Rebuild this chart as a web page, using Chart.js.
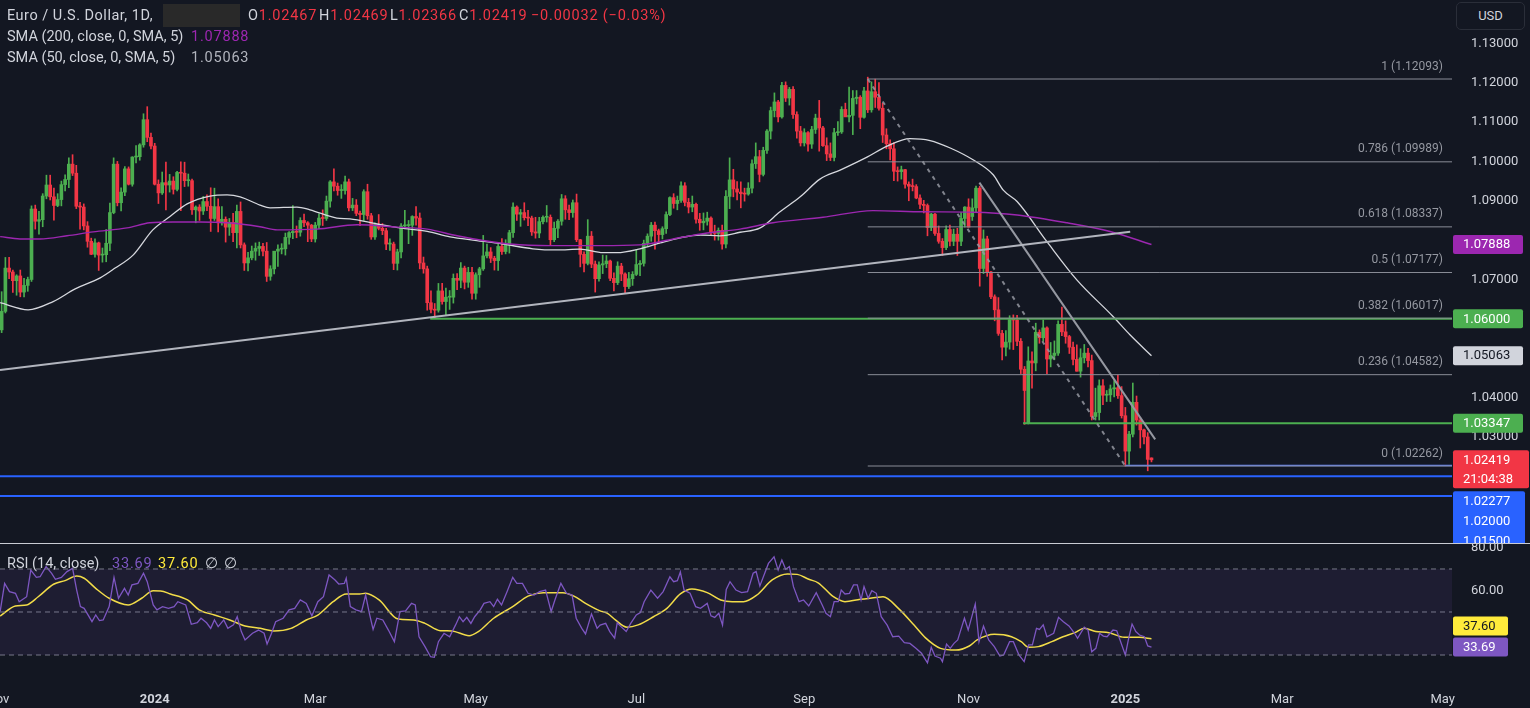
<!DOCTYPE html>
<html>
<head>
<meta charset="utf-8">
<script src="https://cdn.jsdelivr.net/npm/chart.js@4.4.1/dist/chart.umd.min.js"></script>
<style>
  body { margin: 0; background: #131722; }
  #wrap { position: relative; width: 1530px; height: 708px; overflow: hidden; background: #131722; font-family: Roboto, sans-serif; }
  canvas { position: absolute; left: 0; }
  .lg { position: absolute; font-size: 14.5px; line-height: 20px; color: #d1d4dc; white-space: pre; }
  .num { letter-spacing: 0.8px; }
  .red { color: #f23645; }
</style>
</head>
<body>
<div id="wrap">
  <canvas id="price" width="1530" height="543" style="top:0"></canvas>
  <div style="position:absolute;left:0;top:543px;width:1530px;height:1px;background:#c9ccd4"></div>
  <canvas id="rsi" width="1530" height="164" style="top:544px"></canvas>

  <div class="lg" style="left:7px;top:6px;letter-spacing:0.5px">Euro / U.S. Dollar, 1D,</div>
  <div style="position:absolute;left:163px;top:4px;width:77px;height:23px;background:#292929"></div>
  <div class="lg num" style="left:248px;top:6px">O<span class="red">1.02467</span></div>
  <div class="lg num" style="left:319px;top:6px">H<span class="red">1.02469</span></div>
  <div class="lg num" style="left:390px;top:6px">L<span class="red">1.02366</span></div>
  <div class="lg num" style="left:459px;top:6px">C<span class="red">1.02419</span></div>
  <div class="lg num red" style="left:531px;top:6px">−0.00032 (−0.03%)</div>
  <div class="lg" style="left:7px;top:27px">SMA (200, close, 0, SMA, 5)</div>
  <div class="lg num" style="left:191px;top:27px;color:#9c27b0">1.07888</div>
  <div class="lg" style="left:7px;top:48px">SMA (50, close, 0, SMA, 5)</div>
  <div class="lg num" style="left:191px;top:48px;color:#b2b5be">1.05063</div>

  <div class="lg" style="left:7px;top:554px">RSI (14, close)</div>
  <div class="lg num" style="left:112px;top:554px;color:#7e57c2">33.69</div>
  <div class="lg num" style="left:158px;top:554px;color:#ffeb3b">37.60</div>
  <div class="lg" style="left:205px;top:554px">∅</div>
  <div class="lg" style="left:224px;top:554px">∅</div>

  <div style="position:absolute;left:1456px;top:2px;width:69px;height:28px;border:1px solid #2a2e39;border-radius:5px;box-sizing:border-box;background:#131722;color:#d1d4dc;font-size:13px;line-height:26px;text-align:center">USD</div>
</div>

<script>
// bar index 0 = 1 Nov 2023, weekdays only (no 25 Dec / 1 Jan bars), last bar 13 Jan 2025
const opens = [
  1.0575,1.0572,1.0619,1.0729,1.0719,1.0697,1.0709,1.0668,1.0685,1.0700,
  1.0879,1.0848,1.0852,1.0912,1.0940,1.0910,1.0888,1.0903,1.0941,1.0954,
  1.0993,1.0970,1.0886,1.0884,1.0836,1.0797,1.0764,1.0793,1.0762,1.0763,
  1.0792,1.0870,1.0993,1.0895,1.0922,1.0981,1.0942,1.1011,1.1012,1.1042,
  1.1106,1.1061,1.1039,1.0942,1.0920,1.0946,1.0940,1.0950,1.0929,1.0972,
  1.0970,1.0951,1.0951,1.0877,1.0884,1.0874,1.0898,1.0886,1.0855,1.0885,
  1.0844,1.0853,1.0833,1.0845,1.0819,1.0873,1.0788,1.0742,1.0755,1.0772,
  1.0779,1.0784,1.0772,1.0708,1.0727,1.0772,1.0777,1.0778,1.0807,1.0819,
  1.0822,1.0820,1.0850,1.0844,1.0838,1.0803,1.0838,1.0856,1.0855,1.0899,
  1.0948,1.0937,1.0926,1.0926,1.0948,1.0882,1.0889,1.0868,1.0865,1.0923,
  1.0862,1.0808,1.0840,1.0830,1.0824,1.0790,1.0790,1.0741,1.0770,1.0836,
  1.0837,1.0838,1.0860,1.0856,1.0742,1.0727,1.0641,1.0624,1.0622,1.0671,
  1.0644,1.0655,1.0655,1.0703,1.0698,1.0729,1.0693,1.0718,1.0665,1.0712,
  1.0727,1.0760,1.0770,1.0754,1.0748,1.0784,1.0771,1.0788,1.0819,1.0884,
  1.0866,1.0870,1.0857,1.0856,1.0821,1.0818,1.0847,1.0858,1.0858,1.0801,
  1.0830,1.0848,1.0905,1.0877,1.0870,1.0895,1.0801,1.0764,1.0741,1.0810,
  1.0739,1.0702,1.0737,1.0740,1.0747,1.0703,1.0692,1.0734,1.0714,1.0682,
  1.0702,1.0713,1.0738,1.0741,1.0792,1.0810,1.0838,1.0824,1.0814,1.0829,
  1.0865,1.0908,1.0893,1.0901,1.0938,1.0896,1.0884,1.0891,1.0853,1.0844,
  1.0848,1.0856,1.0821,1.0817,1.0825,1.0790,1.0911,1.0953,1.0930,1.0922,
  1.0918,1.0917,1.0932,1.0994,1.1012,1.0967,1.1028,1.1077,1.1129,1.1151,
  1.1113,1.1193,1.1161,1.1183,1.1119,1.1077,1.1047,1.1073,1.1044,1.1081,
  1.1110,1.1085,1.1040,1.1019,1.1010,1.1073,1.1075,1.1132,1.1113,1.1117,
  1.1160,1.1163,1.1112,1.1179,1.1131,1.1177,1.1163,1.1135,1.1067,1.1045,
  1.1032,1.0975,1.0974,1.0979,1.0942,1.0937,1.0936,1.0907,1.0891,1.0888,
  1.0832,1.0866,1.0817,1.0797,1.0781,1.0827,1.0797,1.0815,1.0797,1.0855,
  1.0884,1.0860,1.0882,1.0932,1.0728,1.0803,1.0719,1.0656,1.0623,1.0563,
  1.0528,1.0541,1.0598,1.0597,1.0543,1.0472,1.0335,1.0493,1.0488,1.0566,
  1.0552,1.0577,1.0498,1.0507,1.0513,1.0586,1.0567,1.0555,1.0528,1.0497,
  1.0467,1.0501,1.0513,1.0494,1.0352,1.0362,1.0430,1.0406,1.0407,1.0422,
  1.0425,1.0405,1.0354,1.0264,1.0307,1.0388,1.0343,1.0318,1.0300,1.02467
];
const highs = [
  1.0590,1.0669,1.0756,1.0756,1.0724,1.0712,1.0724,1.0703,1.0706,1.0887,
  1.0889,1.0873,1.0918,1.0965,1.0965,1.0932,1.0918,1.0950,1.0966,1.1009,
  1.1017,1.0990,1.0896,1.0892,1.0847,1.0805,1.0803,1.0795,1.0780,1.0827,
  1.0894,1.1009,1.1000,1.0933,1.0987,1.0986,1.1012,1.1040,1.1045,1.1121,
  1.1139,1.1072,1.1046,1.0953,1.0973,1.0998,1.0967,1.0961,1.0975,1.0999,
  1.0998,1.0968,1.0955,1.0887,1.0890,1.0911,1.0915,1.0933,1.0932,1.0905,
  1.0885,1.0859,1.0855,1.0868,1.0889,1.0897,1.0793,1.0769,1.0785,1.0793,
  1.0795,1.0792,1.0794,1.0735,1.0770,1.0788,1.0791,1.0818,1.0822,1.0888,
  1.0836,1.0857,1.0866,1.0847,1.0840,1.0845,1.0867,1.0877,1.0912,1.0951,
  1.0981,1.0945,1.0941,1.0963,1.0955,1.0906,1.0903,1.0874,1.0928,1.0942,
  1.0868,1.0844,1.0865,1.0842,1.0830,1.0803,1.0795,1.0777,1.0842,1.0876,
  1.0850,1.0862,1.0885,1.0869,1.0757,1.0734,1.0671,1.0639,1.0690,1.0690,
  1.0678,1.0672,1.0714,1.0715,1.0743,1.0734,1.0731,1.0731,1.0717,1.0731,
  1.0812,1.0790,1.0781,1.0759,1.0790,1.0804,1.0801,1.0825,1.0895,1.0887,
  1.0878,1.0895,1.0876,1.0861,1.0858,1.0858,1.0862,1.0888,1.0864,1.0846,
  1.0852,1.0916,1.0913,1.0889,1.0902,1.0917,1.0802,1.0770,1.0852,1.0822,
  1.0747,1.0745,1.0762,1.0761,1.0749,1.0717,1.0745,1.0741,1.0717,1.0718,
  1.0720,1.0776,1.0748,1.0800,1.0816,1.0845,1.0846,1.0828,1.0834,1.0872,
  1.0910,1.0918,1.0912,1.0948,1.0946,1.0906,1.0912,1.0894,1.0868,1.0869,
  1.0871,1.0859,1.0838,1.0831,1.0838,1.0926,1.1009,1.0980,1.0949,1.0948,
  1.0932,1.0946,1.1004,1.1047,1.1028,1.1036,1.1081,1.1138,1.1174,1.1155,
  1.1201,1.1202,1.1188,1.1190,1.1126,1.1089,1.1083,1.1076,1.1089,1.1120,
  1.1155,1.1089,1.1060,1.1047,1.1084,1.1101,1.1139,1.1148,1.1189,1.1180,
  1.1180,1.1167,1.1188,1.1214,1.1202,1.1209,1.1200,1.1148,1.1083,1.1055,
  1.1048,1.0986,1.0988,1.0980,1.0948,1.0955,1.0941,1.0915,1.0901,1.0892,
  1.0868,1.0868,1.0836,1.0804,1.0836,1.0838,1.0828,1.0830,1.0870,1.0885,
  1.0905,1.0905,1.0937,1.0937,1.0826,1.0810,1.0721,1.0661,1.0654,1.0571,
  1.0570,1.0608,1.0610,1.0609,1.0550,1.0479,1.0529,1.0516,1.0589,1.0572,
  1.0597,1.0580,1.0540,1.0544,1.0595,1.0630,1.0595,1.0558,1.0541,1.0534,
  1.0524,1.0535,1.0525,1.0508,1.0424,1.0445,1.0446,1.0418,1.0432,1.0443,
  1.0457,1.0428,1.0375,1.0314,1.0437,1.0404,1.0350,1.0320,1.0311,1.02469
];
const lows = [
  1.0517,1.0565,1.0615,1.0702,1.0667,1.0660,1.0656,1.0656,1.0670,1.0695,
  1.0828,1.0815,1.0834,1.0905,1.0902,1.0851,1.0885,1.0887,1.0925,1.0933,
  1.0964,1.0880,1.0828,1.0826,1.0782,1.0763,1.0757,1.0723,1.0744,1.0745,
  1.0773,1.0867,1.0887,1.0874,1.0913,1.0940,1.0937,1.0996,1.1003,1.1036,
  1.1050,1.1032,1.0940,1.0893,1.0916,1.0877,1.0922,1.0917,1.0925,1.0875,
  1.0936,1.0937,1.0865,1.0844,1.0850,1.0865,1.0875,1.0822,1.0850,1.0821,
  1.0838,1.0795,1.0812,1.0796,1.0780,1.0780,1.0723,1.0722,1.0750,1.0749,
  1.0761,1.0760,1.0695,1.0698,1.0714,1.0733,1.0765,1.0762,1.0790,1.0804,
  1.0806,1.0810,1.0834,1.0796,1.0796,1.0795,1.0829,1.0837,1.0850,1.0884,
  1.0925,1.0914,1.0906,1.0917,1.0874,1.0875,1.0862,1.0837,1.0850,1.0853,
  1.0802,1.0802,1.0826,1.0814,1.0776,1.0774,1.0725,1.0724,1.0755,1.0830,
  1.0791,1.0812,1.0838,1.0727,1.0716,1.0622,1.0615,1.0601,1.0617,1.0637,
  1.0610,1.0624,1.0640,1.0674,1.0679,1.0676,1.0680,1.0650,1.0650,1.0680,
  1.0723,1.0755,1.0743,1.0724,1.0723,1.0764,1.0765,1.0767,1.0807,1.0850,
  1.0835,1.0851,1.0837,1.0812,1.0805,1.0806,1.0841,1.0846,1.0788,1.0796,
  1.0806,1.0838,1.0853,1.0852,1.0858,1.0796,1.0732,1.0719,1.0737,1.0730,
  1.0668,1.0696,1.0715,1.0730,1.0697,1.0671,1.0687,1.0697,1.0666,1.0677,
  1.0685,1.0710,1.0710,1.0734,1.0784,1.0797,1.0777,1.0791,1.0803,1.0817,
  1.0862,1.0881,1.0877,1.0896,1.0887,1.0869,1.0872,1.0843,1.0825,1.0826,
  1.0838,1.0812,1.0800,1.0800,1.0777,1.0780,1.0880,1.0910,1.0902,1.0882,
  1.0899,1.0914,1.0920,1.0982,1.0948,1.0963,1.1020,1.1057,1.1113,1.1100,
  1.1110,1.1152,1.1143,1.1109,1.1059,1.1039,1.1039,1.1026,1.1033,1.1071,
  1.1026,1.1038,1.1002,1.1002,1.1001,1.1066,1.1071,1.1115,1.1100,1.1068,
  1.1146,1.1083,1.1110,1.1124,1.1125,1.1137,1.1130,1.1048,1.1032,1.1004,
  1.0951,1.0950,1.0955,1.0932,1.0900,1.0925,1.0905,1.0880,1.0869,1.0811,
  1.0824,1.0812,1.0792,1.0761,1.0776,1.0785,1.0786,1.0761,1.0786,1.0833,
  1.0833,1.0850,1.0870,1.0683,1.0715,1.0708,1.0651,1.0595,1.0558,1.0496,
  1.0506,1.0523,1.0522,1.0532,1.0461,1.0332,1.0333,1.0424,1.0468,1.0538,
  1.0543,1.0461,1.0478,1.0496,1.0507,1.0557,1.0538,1.0512,1.0483,1.0467,
  1.0452,1.0488,1.0478,1.0343,1.0343,1.0343,1.0382,1.0390,1.0390,1.0402,
  1.0398,1.0348,1.0226,1.0230,1.0300,1.0330,1.0272,1.0282,1.0214,1.02366
];
const closes = [
  1.0572,1.0619,1.0729,1.0719,1.0697,1.0709,1.0668,1.0685,1.0700,1.0879,
  1.0848,1.0852,1.0912,1.0940,1.0910,1.0888,1.0903,1.0941,1.0954,1.0993,
  1.0970,1.0886,1.0884,1.0836,1.0797,1.0764,1.0793,1.0762,1.0763,1.0792,
  1.0870,1.0993,1.0895,1.0922,1.0981,1.0942,1.1011,1.1012,1.1042,1.1106,
  1.1061,1.1039,1.0942,1.0920,1.0946,1.0940,1.0950,1.0929,1.0972,1.0970,
  1.0951,1.0951,1.0877,1.0884,1.0874,1.0898,1.0886,1.0855,1.0885,1.0844,
  1.0853,1.0833,1.0845,1.0819,1.0873,1.0788,1.0742,1.0755,1.0772,1.0779,
  1.0784,1.0772,1.0708,1.0727,1.0772,1.0777,1.0778,1.0807,1.0819,1.0822,
  1.0820,1.0850,1.0844,1.0838,1.0803,1.0838,1.0856,1.0855,1.0899,1.0948,
  1.0937,1.0926,1.0926,1.0948,1.0882,1.0889,1.0868,1.0865,1.0923,1.0862,
  1.0808,1.0840,1.0830,1.0824,1.0790,1.0790,1.0741,1.0770,1.0836,1.0837,
  1.0838,1.0860,1.0856,1.0742,1.0727,1.0641,1.0624,1.0622,1.0671,1.0644,
  1.0655,1.0655,1.0703,1.0698,1.0729,1.0693,1.0718,1.0665,1.0712,1.0727,
  1.0760,1.0770,1.0754,1.0748,1.0784,1.0771,1.0788,1.0819,1.0884,1.0866,
  1.0870,1.0857,1.0856,1.0821,1.0818,1.0847,1.0858,1.0858,1.0801,1.0830,
  1.0848,1.0905,1.0877,1.0870,1.0895,1.0801,1.0764,1.0741,1.0810,1.0739,
  1.0702,1.0737,1.0740,1.0747,1.0703,1.0692,1.0734,1.0714,1.0682,1.0702,
  1.0713,1.0738,1.0741,1.0792,1.0810,1.0838,1.0824,1.0814,1.0829,1.0865,
  1.0908,1.0893,1.0901,1.0938,1.0896,1.0884,1.0891,1.0853,1.0844,1.0848,
  1.0856,1.0821,1.0817,1.0825,1.0790,1.0911,1.0953,1.0930,1.0922,1.0918,
  1.0917,1.0932,1.0994,1.1012,1.0967,1.1028,1.1077,1.1129,1.1151,1.1113,
  1.1193,1.1161,1.1183,1.1119,1.1077,1.1047,1.1073,1.1044,1.1081,1.1110,
  1.1085,1.1040,1.1019,1.1010,1.1073,1.1075,1.1132,1.1113,1.1117,1.1160,
  1.1163,1.1112,1.1179,1.1131,1.1177,1.1163,1.1135,1.1067,1.1045,1.1032,
  1.0975,1.0974,1.0979,1.0942,1.0937,1.0936,1.0907,1.0891,1.0888,1.0832,
  1.0866,1.0817,1.0797,1.0781,1.0827,1.0797,1.0815,1.0797,1.0855,1.0884,
  1.0833,1.0882,1.0932,1.0728,1.0803,1.0719,1.0656,1.0623,1.0563,1.0528,
  1.0541,1.0598,1.0597,1.0543,1.0472,1.0418,1.0493,1.0488,1.0566,1.0552,
  1.0577,1.0498,1.0507,1.0513,1.0586,1.0567,1.0555,1.0528,1.0497,1.0467,
  1.0501,1.0513,1.0494,1.0352,1.0362,1.0430,1.0406,1.0407,1.0422,1.0425,
  1.0405,1.0354,1.0264,1.0307,1.0388,1.0343,1.0318,1.0300,1.0243,1.02419
];

// moving averages (bar position, value)
const sma50At = [0.6,8.1,14.8,20.7,27.4,31.4,36.2,41.5,46.1,50.7,56.8,61.4,64.9,70.2,72.9,80.1,83.6,90.8,94.3,101.6,
  107.7,115,121.1,128.3,135.3,143.3,149.8,155.9,162.1,165.8,172,177.4,182.7,188.1,193.4,198.8,204.2,209.5,214.9,220.2,
  225.6,232.8,238.2,244.3,249.7,255.1,261.2,266.6,269.3,273,281,289,298.7,303.3,309];
const sma50 = [1.0641,1.0623,1.0644,1.0676,1.0704,1.0729,1.0762,1.0826,1.0860,1.0892,1.0912,1.0915,1.0910,1.0889,1.0882,1.0884,1.0877,1.0856,1.0854,1.0841,
  1.0831,1.0822,1.0808,1.0799,1.0790,1.0778,1.0775,1.0777,1.0768,1.0768,1.0778,1.0793,1.0806,1.0813,1.0811,1.0820,1.0831,1.0872,1.0910,1.0955,
  1.0978,1.1011,1.1039,1.1058,1.1053,1.1034,1.1004,1.0966,1.0927,1.0898,1.0796,1.0699,1.0606,1.0559,1.05063];
const sma200At = [0.6,5.9,11.3,18.5,25.5,34.6,40.7,46.9,54.1,61.4,70.2,74.8,85.5,96.2,106.9,115,123,130,137.2,147.9,
  161.3,172,180.9,190,198.8,207.6,221,234.4,247.8,261.2,273,286.4,297.9,309];
const sma200 = [1.0809,1.0803,1.0803,1.0811,1.0821,1.0831,1.0844,1.0846,1.0846,1.0844,1.0834,1.0826,1.0828,1.0839,1.0833,1.0828,1.0811,1.0799,1.0790,1.0786,
  1.0786,1.0788,1.0803,1.0818,1.0828,1.0844,1.0858,1.0875,1.0872,1.0871,1.0864,1.0844,1.0822,1.07888];

// RSI(14) and its MA
const rsiAt = [0.6,1.8,3.1,4.7,5.7,7.7,8.8,10.3,11.3,12.9,14.4,15.4,17,18.5,20,21.1,22.1,23.1,25.2,26.2,
  27.2,28.2,29.8,31.1,32.3,33.9,34.9,35.9,37.5,39,40,41.6,42.6,44.1,45.7,47.2,48.2,50.3,51.8,53.4,
  54.4,55.9,57,58,59,60.5,61.6,63.1,64.1,65.2,66.2,68.2,69.8,71.3,72.1,73.3,74.4,76.4,78,79.5,
  81,82.6,84.1,85.7,87.2,88.7,90.3,91.3,92.8,93.3,94.4,95.9,97.4,98.5,99.5,100.5,101.5,103.1,104.6,106.2,
  107.7,109.2,110.8,111.8,112.8,114.4,115.9,116.9,118,119.5,121,122.6,123.6,124.6,125.6,126.7,127.7,129.2,130.2,131.8,
  132.8,133.8,134.9,136.4,137.9,139,140.5,142,143.6,145.1,146.7,148.2,149.2,150.8,152.3,153.8,154.9,156.4,157.4,159,
  160.5,161.3,162.8,163.9,165.2,165.9,166.9,168.3,169.5,171,172.1,173.1,174.9,176.7,178.2,180,181,182,182.8,183.8,
  185.4,186.9,188.2,190,191,192,193.1,194.1,195.1,196.1,197.7,199.2,200.8,202.3,203.1,204.1,205.4,206.4,207.9,209,
  210,211,212,213.1,214.6,215.8,217.2,219.2,220.8,221.8,223,224,225.1,225.9,226.9,228.1,229.2,230.2,231.2,232,
  233.1,234.1,235.3,236.6,238.2,239.7,241.3,242.8,244.3,245.9,247.4,249,250,251,252.5,253,254.1,255.1,256.1,257.1,
  258.2,258.9,259.9,261.8,262.8,264,265.4,266.9,268.4,269.4,271,272,273.5,274.9,276.1,277.1,278.2,279,280,281,
  282.8,284.1,285.4,286.9,288.4,289.2,291,292,293,294.1,295.1,296.1,297.1,298.7,299.7,302,302.8,303.8,304.8,305.8,
  307.1,308,309];
const rsi = [50.2,63.3,59.5,58.7,54.8,57.1,69.5,66.1,66.4,71.1,68,65.2,66.1,68.8,70.3,60.2,52.5,51.7,45.5,48.6,
  46,46.3,52.5,66.1,56.4,61,57.9,62.6,63.3,68,64.1,53.3,51,52.5,51.7,52.5,54.8,53.3,44.3,45,
  47.1,45,42.4,46.3,43.2,46.3,42.4,44,47.8,40.9,37,40.1,41.6,40.1,35.1,40.1,45.5,47.1,51,51.7,
  55.6,54,48.2,54.8,57.1,67.2,64.9,63,63.3,65.7,52.5,51,50.2,57.9,49.4,41.9,47.1,46.3,41.6,36.2,
  50.2,50.5,54,53.3,38.5,33.9,29.2,28.9,36.2,40.1,38.5,44,47.8,45.5,47.5,44.7,47.8,51,54,54.8,
  52.5,55.9,53.3,59.5,66.1,63.3,63.3,58.7,57.9,59.5,60.2,50.2,55.6,63.3,58.7,57.9,47.1,42.4,39.8,49.1,
  42.4,43.9,44.7,40.9,37.8,45,43.2,40.9,44.7,48.6,49.7,54.8,60.2,56.4,59.5,66.4,64.1,64.6,68.6,60.2,
  58.7,52.5,51.7,54,48.2,47.5,49.4,43.9,60.5,64.1,60.2,59,59.5,68,68.8,62.1,68,72.6,75.7,69.5,
  74.2,69.9,71.1,61.8,54.8,55.6,52.8,59,53.3,49.4,47.8,54.8,54.8,60.2,58.4,58.7,62.6,62.6,55.6,61.8,
  56.4,59.9,58.7,47.8,43.9,38.5,38.8,35.7,35.4,33.1,30.8,26.4,33.6,29.5,28.5,26.9,35.1,33.1,35.4,37,
  43.2,47.1,41.6,53.7,36.2,43.5,37,33.9,29.5,30,36.2,36.2,30,26.9,34.7,34.7,42.4,41.9,44,38.5,
  40.1,47.5,45.5,43.5,40.1,37.8,42.9,41.6,31.5,33.1,40.1,38.8,38.5,41.6,41.3,30,37,44.4,40.9,39.3,
  38.5,34.2,33.69];
const rsiMaAt = [0.6,4.7,7.7,10.8,14.9,18,21.1,23.1,26.2,29.8,34.9,38.5,41.6,43.6,46.2,50.8,53.9,58,62.1,66.2,
  70.3,73.9,78.5,82.6,85.7,89.8,93.3,96.9,98.5,102.1,107.2,111.3,114.4,118.5,121.5,126.2,128.7,132.8,137.9,142,
  146.1,151.3,154.3,157.4,161.3,163.3,165.4,168.5,171.5,175.6,179.2,182.8,185.9,190,193.6,196.7,199.7,203.3,207.4,211.5,
  214.1,217.2,219.7,223.8,226.9,231,235.1,237.1,241.2,245.4,248.4,252.5,256.6,260.2,262.3,266.9,271.5,274.1,276.1,278.7,
  282.3,285.3,288.4,291,294.1,297.6,301.7,305.8,309];
const rsiMa = [48.1,52.8,53.3,57.1,62.9,64.6,66.7,65.7,61,56.4,53.3,56.4,59.9,59.8,58.4,55.6,51,48.6,46.3,43.5,
  42.4,41.2,42.4,46.3,48.6,54.8,58.4,58.4,58.7,55.6,46.7,46.3,44.7,41.3,41.2,39,40.9,47.1,52.5,57.4,
  59,59,57.4,54,50.5,49.4,46.3,42.9,44,47.8,51.7,58.4,60.7,59,55.6,54.8,54.8,57.9,64.9,67.7,
  67.5,65.2,63.6,57.1,54.8,55.9,56.7,57.1,51.7,43.9,38.1,33.1,32.3,34.2,37,39.6,38.5,36.2,33.6,33.9,
  36.2,38.5,40.4,42.4,40.9,40.4,38.2,38.2,37.6];

// drawings: fib retracement, trend lines, levels  ([bar, price])
const fibRatios = ['1', '0.786', '0.618', '0.5', '0.382', '0.236', '0'];
const fibLevels = [1.12093, 1.09989, 1.08337, 1.07177, 1.06017, 1.04582, 1.02262];
const fibStart = 233;
const riseLine = [[0.56, 1.0470], [303.3, 1.0821]];
const fallLine = [[262.9, 1.0946], [310.0, 1.0294]];
const fibDiag = [[233, 1.12093], [302, 1.02262]];
const greenLevels = [[115.8, 1.06], [274.6, 1.03347]];
const blueLevels = [[0.56, 1.02], [0.56, 1.015]];
const blueRay = [302, 1.02277];

// axes (only the labels left uncovered by the value tags)
const tickAt = [0, 42, 85, 128, 171, 216, 260, 302, 344, 387];
const tickLabels = ['Nov', '2024', 'Mar', 'May', 'Jul', 'Sep', 'Nov', '2025', 'Mar', 'May'];
const priceTicks = [1.03, 1.04, 1.07, 1.09, 1.10, 1.11, 1.12, 1.13];
const rsiTicks = [60, 80];

const X_MIN = 0.56, X_MAX = 389.5;
const P_MIN = 1.00306, P_MAX = 1.14100;
const R_MIN = 20.70, R_MAX = 81.16;
const UP = '#4caf50', DOWN = '#f23645';

Chart.defaults.font.family = 'Roboto, sans-serif';

const candleColors = closes.map((c, i) => c >= opens[i] ? UP : DOWN);
const pts = (xs, ys) => xs.map((x, k) => ({ x: x, y: ys[k] }));
const seg = (pairs, color, width, dash) => ({
  type: 'line', data: pairs.map(p => ({ x: p[0], y: p[1] })), borderColor: color, borderWidth: width,
  borderDash: dash || [], pointRadius: 0, order: 1
});
// keep the plot area edge to edge: no room reserved for overhanging labels
const noPad = s => { s.paddingTop = 0; s.paddingBottom = 0; s.paddingLeft = 0; s.paddingRight = 0; };

function tag(ctx, left, top, w, h, bg, fg, lines, lineH) {
  ctx.fillStyle = bg;
  ctx.beginPath();
  ctx.roundRect(left, top, w, h, 2);
  ctx.fill();
  ctx.fillStyle = fg;
  ctx.font = '13px Roboto, sans-serif';
  ctx.textAlign = 'left';
  ctx.textBaseline = 'middle';
  lines.forEach((t, k) => ctx.fillText(t, left + 10, top + lineH / 2 + k * lineH + 0.5));
}

const priceOverlay = {
  id: 'priceOverlay',
  afterDatasetsDraw(chart) {
    const { ctx, chartArea: a, scales: { y } } = chart;
    ctx.save();
    ctx.font = '12px Roboto, sans-serif';
    ctx.fillStyle = '#9598a1';
    ctx.textAlign = 'right';
    ctx.textBaseline = 'middle';
    fibLevels.forEach((v, k) => ctx.fillText(fibRatios[k] + ' (' + v.toFixed(5) + ')', a.right - 9, y.getPixelForValue(v) - 12.5));
    ctx.restore();
  },
  afterDraw(chart) {
    const { ctx, chartArea: a, scales: { y } } = chart;
    const L = a.right + 1, H = 19;
    const at = v => y.getPixelForValue(v) - H / 2;
    ctx.save();
    tag(ctx, L, at(sma200[sma200.length - 1]), 70, H, '#9c27b0', '#ffffff', [sma200[sma200.length - 1].toFixed(5)], H);
    tag(ctx, L, at(greenLevels[0][1]), 70, H, UP, '#ffffff', [greenLevels[0][1].toFixed(5)], H);
    tag(ctx, L, at(sma50[sma50.length - 1]), 70, H, '#d1d4dc', '#131722', [sma50[sma50.length - 1].toFixed(5)], H);
    tag(ctx, L, at(greenLevels[1][1]), 70, H, UP, '#ffffff', [greenLevels[1][1].toFixed(5)], H);
    const last = closes[closes.length - 1];
    const redTop = at(last);
    tag(ctx, L, redTop, 76, 38, DOWN, '#ffffff', [last.toFixed(5), '21:04:38'], 19);
    const blueVals = [blueRay[1], blueLevels[0][1], blueLevels[1][1]];
    tag(ctx, L, redTop + 41, 72, 62, '#2962ff', '#ffffff', blueVals.map(v => v.toFixed(5)), 20);
    ctx.restore();
  }
};

const priceDatasets = [
  { type: 'bar', data: lows.map((l, i) => ({ x: i, y: [l, highs[i]] })), backgroundColor: candleColors,
    barThickness: 1, grouped: false, order: 10 },
  { type: 'bar', data: opens.map((o, i) => ({ x: i, y: [o, closes[i]] })), backgroundColor: candleColors,
    barThickness: 3, minBarLength: 1, grouped: false, order: 9 },
  { type: 'line', data: pts(sma200At, sma200), borderColor: '#9c27b0', borderWidth: 1.4, pointRadius: 0,
    cubicInterpolationMode: 'monotone', order: 3 },
  { type: 'line', data: pts(sma50At, sma50), borderColor: '#d6d8de', borderWidth: 1.3, pointRadius: 0,
    cubicInterpolationMode: 'monotone', order: 3 },
  seg(riseLine, '#b2b5be', 2),
  seg(fallLine, '#9598a1', 2),
  seg(fibDiag, 'rgba(149,152,161,0.85)', 2, [4, 5]),
  ...fibLevels.map(v => seg([[fibStart, v], [X_MAX, v]], '#8a8d97', 1)),
  ...greenLevels.map(g => seg([g, [X_MAX, g[1]]], UP, 2)),
  ...blueLevels.map(b => seg([b, [X_MAX, b[1]]], '#2962ff', 2)),
  seg([blueRay, [X_MAX, blueRay[1]]], '#5b7fff', 1.5)
];

new Chart(document.getElementById('price'), {
  type: 'bar',
  data: { datasets: priceDatasets },
  options: {
    responsive: false, animation: false, devicePixelRatio: 1,
    layout: { padding: 0, autoPadding: false },
    plugins: { legend: { display: false }, tooltip: { enabled: false } },
    scales: {
      x: { type: 'linear', bounds: 'data', min: X_MIN, max: X_MAX, offset: false, display: false },
      y: {
        position: 'right', bounds: 'data', min: P_MIN, max: P_MAX,
        grid: { display: false }, border: { display: false },
        afterBuildTicks: s => { s.ticks = priceTicks.map(v => ({ value: v })); },
        ticks: { autoSkip: false, color: '#d1d4dc', font: { size: 13 }, padding: 11, callback: v => v.toFixed(5) },
        afterFit: s => { s.width = 78; noPad(s); }
      }
    }
  },
  plugins: [priceOverlay]
});

const rsiOverlay = {
  id: 'rsiOverlay',
  afterDraw(chart) {
    const { ctx, chartArea: a, scales: { y } } = chart;
    const L = a.right + 1, H = 19;
    const pTop = y.getPixelForValue(rsi[rsi.length - 1]) - H / 2;
    ctx.save();
    tag(ctx, L, pTop, 55, H, '#7e57c2', '#ffffff', [rsi[rsi.length - 1].toFixed(2)], H);
    tag(ctx, L, pTop - H - 2, 55, H, '#ffeb3b', '#131722', [rsiMa[rsiMa.length - 1].toFixed(2)], H);
    ctx.restore();
  }
};

const flat = v => [{ x: X_MIN, y: v }, { x: X_MAX, y: v }];

new Chart(document.getElementById('rsi'), {
  type: 'line',
  data: {
    datasets: [
      { data: flat(70), borderWidth: 0, pointRadius: 0, fill: { value: 30 }, backgroundColor: 'rgba(126,87,194,0.1)' },
      ...[70, 50, 30].map(v => ({ data: flat(v), borderColor: '#787b86', borderWidth: 1, borderDash: [5, 4], pointRadius: 0 })),
      { data: pts(rsiAt, rsi), borderColor: '#7e57c2', borderWidth: 1.3, pointRadius: 0 },
      { data: pts(rsiMaAt, rsiMa), borderColor: '#ffeb3b', borderWidth: 1.5, pointRadius: 0, cubicInterpolationMode: 'monotone' }
    ]
  },
  options: {
    responsive: false, animation: false, devicePixelRatio: 1,
    layout: { padding: { top: 1 }, autoPadding: false },
    plugins: { legend: { display: false }, tooltip: { enabled: false } },
    scales: {
      x: {
        type: 'linear', bounds: 'data', min: X_MIN, max: X_MAX, offset: false,
        grid: { display: false }, border: { display: false },
        afterBuildTicks: s => { s.ticks = tickAt.map(v => ({ value: v })); },
        afterFit: s => { s.height = 33; noPad(s); },
        ticks: {
          autoSkip: false, maxRotation: 0, color: '#d1d4dc', padding: 9,
          font: c => ({ size: 13, weight: /^\d/.test(tickLabels[c.index] || '') ? 'bold' : 'normal' }),
          callback: (v, i) => tickLabels[i]
        }
      },
      y: {
        position: 'right', bounds: 'data', min: R_MIN, max: R_MAX,
        grid: { display: false }, border: { display: false },
        afterBuildTicks: s => { s.ticks = rsiTicks.map(v => ({ value: v })); },
        ticks: { autoSkip: false, color: '#d1d4dc', font: { size: 13 }, padding: 11, callback: v => v.toFixed(2) },
        afterFit: s => { s.width = 78; noPad(s); }
      }
    }
  },
  plugins: [rsiOverlay]
});
</script>
</body>
</html>
